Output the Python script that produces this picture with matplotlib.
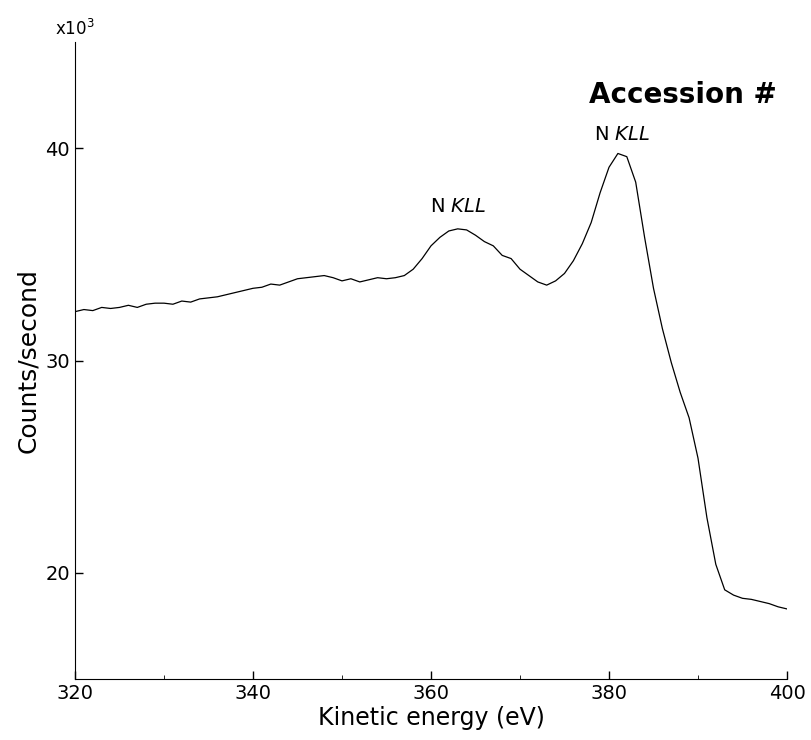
import numpy as np
import matplotlib.pyplot as plt

energy = np.arange(320, 401, 1)
counts = [32.3, 32.4, 32.35, 32.5, 32.45, 32.5, 32.6, 32.5, 32.65, 32.7,
          32.7, 32.65, 32.8, 32.75, 32.9, 32.95, 33.0, 33.1, 33.2, 33.3,
          33.4, 33.45, 33.6, 33.55, 33.7, 33.85, 33.9, 33.95, 34.0, 33.9,
          33.75, 33.85, 33.7, 33.8, 33.9, 33.85, 33.9, 34.0, 34.3, 34.8,
          35.4, 35.8, 36.1, 36.2, 36.15, 35.9, 35.6, 35.4, 34.95, 34.8,
          34.3, 34.0, 33.7, 33.55, 33.75, 34.1, 34.7, 35.5, 36.5, 37.9,
          39.1, 39.75, 39.6, 38.4, 35.8, 33.4, 31.5, 29.9, 28.5, 27.3,
          25.4, 22.6, 20.4, 19.2, 18.95, 18.8, 18.75, 18.65, 18.55, 18.4, 18.3]

fig = plt.figure(figsize=(8.11, 7.40), dpi=100)
ax = fig.add_axes([75/811, 1 - 679/740, 712/811, (679-42)/740])
ax.plot(energy, counts, color="black", lw=0.9)
ax.set_xlim(320, 400)
ax.set_ylim(15, 45)
ax.set_xticks([320, 340, 360, 380, 400])
ax.set_xticks([330, 350, 370, 390], minor=True)
ax.set_yticks([20, 30, 40])
ax.tick_params(direction="in", labelsize=14, length=6, width=1)
ax.tick_params(which="minor", direction="in", length=3)
ax.spines["top"].set_visible(False)
ax.spines["right"].set_visible(False)
ax.set_xlabel("Kinetic energy (eV)", fontsize=17, labelpad=2)
ax.set_ylabel("Counts/second", fontsize=18)
ax.text(0, 1.005, r"x10$^3$", transform=ax.transAxes, fontsize=12, ha="center", va="bottom")
ax.text(0.985, 0.905, "Accession #", transform=ax.transAxes, fontsize=20, fontweight="bold", ha="right")
ax.text(363, 37.0, r"N $\it{KLL}$", fontsize=14, ha="center")
ax.text(381.5, 40.4, r"N $\it{KLL}$", fontsize=14, ha="center")
fig.savefig("out.png")
